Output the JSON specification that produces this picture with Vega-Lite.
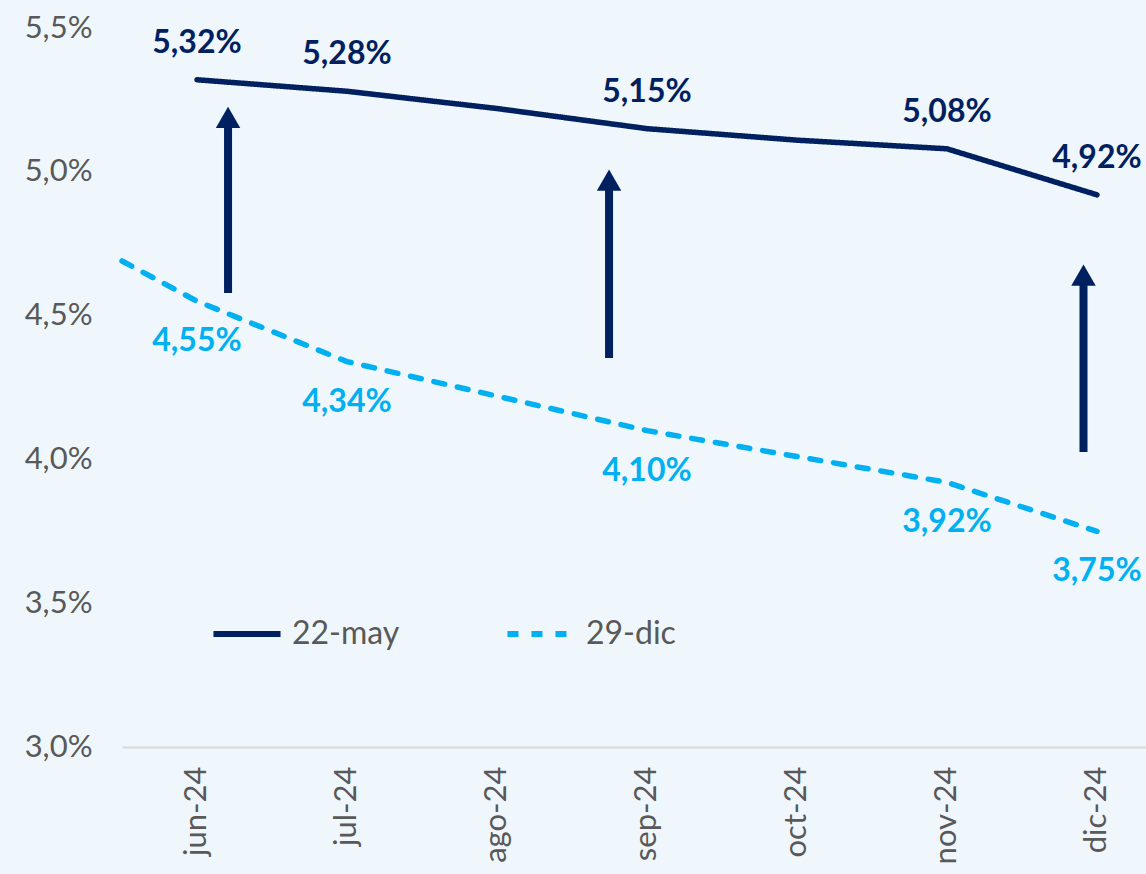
{
  "$schema": "https://vega.github.io/schema/vega-lite/v6.json",
  "width": 1024,
  "height": 719,
  "autosize": {"type": "none"},
  "padding": {"left": 122, "top": 28, "right": 0, "bottom": 127},
  "background": "#eff7fc",
  "config": {
    "locale": {"number": {"decimal": ",", "thousands": ".", "grouping": [3], "currency": ["", " €"]}},
    "view": {"stroke": null},
    "font": "Lato"
  },
  "datasets": {
    "curves": [
      {"m": 0, "serie": "22-may", "v": 0.0532},
      {"m": 1, "serie": "22-may", "v": 0.0528},
      {"m": 2, "serie": "22-may", "v": 0.0522},
      {"m": 3, "serie": "22-may", "v": 0.0515},
      {"m": 4, "serie": "22-may", "v": 0.0511},
      {"m": 5, "serie": "22-may", "v": 0.0508},
      {"m": 6, "serie": "22-may", "v": 0.0492},
      {"m": -0.5, "serie": "29-dic", "v": 0.0469},
      {"m": 0, "serie": "29-dic", "v": 0.0455},
      {"m": 1, "serie": "29-dic", "v": 0.0434},
      {"m": 2, "serie": "29-dic", "v": 0.0422},
      {"m": 3, "serie": "29-dic", "v": 0.0410},
      {"m": 4, "serie": "29-dic", "v": 0.0401},
      {"m": 5, "serie": "29-dic", "v": 0.0392},
      {"m": 6, "serie": "29-dic", "v": 0.0375}
    ],
    "arrows": [
      {"m": 0.207, "y0": 0.04579, "y1": 0.05189},
      {"m": 2.747, "y0": 0.04353, "y1": 0.04971},
      {"m": 5.91, "y0": 0.04026, "y1": 0.04641}
    ]
  },
  "layer": [
    {
      "data": {"name": "curves"},
      "mark": {"type": "line", "strokeWidth": 5.5, "strokeCap": "round", "strokeJoin": "round"},
      "encoding": {
        "x": {
          "field": "m", "type": "quantitative",
          "scale": {"domain": [-0.5, 6.3267], "nice": false, "zero": false},
          "axis": {
            "values": [0, 1, 2, 3, 4, 5, 6],
            "labelExpr": "['jun-24','jul-24','ago-24','sep-24','oct-24','nov-24','dic-24'][datum.value]",
            "labelAngle": 270, "labelAlign": "right", "labelBaseline": "middle",
            "labelPadding": 19, "labelFontSize": 31, "labelColor": "#595959",
            "ticks": false, "grid": false, "domainColor": "#d9d9d9", "domainWidth": 2,
            "title": null, "labelFlush": false, "labelOverlap": false
          }
        },
        "y": {
          "field": "v", "type": "quantitative",
          "scale": {"domain": [0.03, 0.055], "nice": false, "zero": false},
          "axis": {
            "values": [0.03, 0.035, 0.04, 0.045, 0.05, 0.055],
            "format": ".1%", "labelFontSize": 31, "labelColor": "#595959",
            "ticks": false, "grid": false, "domain": false, "labelPadding": 30, "title": null
          }
        },
        "color": {
          "field": "serie", "type": "nominal",
          "scale": {"domain": ["22-may", "29-dic"], "range": ["#002060", "#00B0F0"]},
          "legend": {
            "title": null, "orient": "none", "legendX": 88, "legendY": 569, "direction": "horizontal",
            "symbolType": "stroke", "symbolSize": 4500, "symbolStrokeWidth": 6,
            "labelFontSize": 32, "labelColor": "#595959", "labelOffset": 8, "columnPadding": 95
          }
        },
        "strokeDash": {
          "field": "serie", "type": "nominal",
          "scale": {"domain": ["22-may", "29-dic"], "range": [[1, 0], [11, 13]]},
          "legend": {
            "title": null, "orient": "none", "legendX": 88, "legendY": 569, "direction": "horizontal",
            "symbolType": "stroke", "symbolSize": 4500, "symbolStrokeWidth": 6,
            "labelFontSize": 32, "labelColor": "#595959", "labelOffset": 8, "columnPadding": 95
          }
        }
      }
    },
    {
      "data": {"name": "curves"},
      "transform": [{"filter": "datum.serie == '22-may' && datum.m >= 0 && datum.m != 2 && datum.m != 4"}],
      "mark": {"type": "text", "fontSize": 32, "fontWeight": "bold", "dy": -37, "baseline": "middle"},
      "encoding": {
        "x": {"field": "m", "type": "quantitative"},
        "y": {"field": "v", "type": "quantitative"},
        "text": {"field": "v", "type": "quantitative", "format": ".2%"},
        "color": {"field": "serie", "type": "nominal"}
      }
    },
    {
      "data": {"name": "curves"},
      "transform": [{"filter": "datum.serie == '29-dic' && datum.m >= 0 && datum.m != 2 && datum.m != 4"}],
      "mark": {"type": "text", "fontSize": 32, "fontWeight": "bold", "dy": 40, "baseline": "middle"},
      "encoding": {
        "x": {"field": "m", "type": "quantitative"},
        "y": {"field": "v", "type": "quantitative"},
        "text": {"field": "v", "type": "quantitative", "format": ".2%"},
        "color": {"field": "serie", "type": "nominal"}
      }
    },
    {
      "data": {"name": "arrows"},
      "mark": {"type": "rule", "strokeWidth": 8, "color": "#002060"},
      "encoding": {
        "x": {"field": "m", "type": "quantitative"},
        "y": {"field": "y0", "type": "quantitative"},
        "y2": {"field": "y1"}
      }
    },
    {
      "data": {"name": "arrows"},
      "mark": {"type": "point", "shape": "triangle-up", "size": 600, "filled": true, "opacity": 1, "color": "#002060"},
      "encoding": {
        "x": {"field": "m", "type": "quantitative"},
        "y": {"field": "y1", "type": "quantitative"}
      }
    }
  ]
}
